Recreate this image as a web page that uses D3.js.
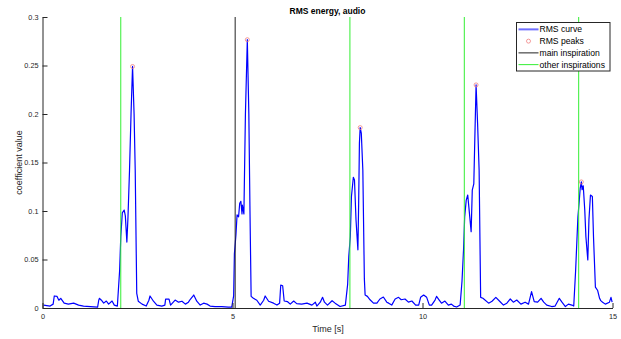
<!DOCTYPE html>
<html>
<head>
<meta charset="utf-8">
<script src="https://cdn.jsdelivr.net/npm/d3@7"></script>
<style>
  body { margin: 0; background: #fff; }
  svg { display: block; font-family: "Liberation Sans", Arial, sans-serif; }
</style>
</head>
<body>
<div id="chart"></div>
<script>
// RMS curve samples (time in s, coefficient value)
const timeSec = [0.03,0.20,0.28,0.31,0.38,0.43,0.48,0.57,0.68,0.82,0.95,1.08,1.26,1.45,1.48,1.50,1.55,1.61,1.68,1.74,1.83,1.89,1.97,
  2.03,2.06,2.10,2.15,2.18,2.22,2.25,2.29,2.33,2.37,2.41,2.44,2.48,2.52,2.62,2.73,2.80,2.83,2.92,3.01,3.14,3.22,3.24,3.33,3.37,
  3.49,3.58,3.67,3.76,3.84,3.89,3.98,4.06,4.15,4.24,4.33,4.41,4.54,4.72,4.89,4.98,
  5.03,5.05,5.09,5.12,5.16,5.19,5.22,5.25,5.26,5.30,5.34,5.39,5.43,5.46,5.49,5.55,5.64,5.73,5.82,5.86,5.95,6.08,6.17,6.24,6.27,
  6.32,6.36,6.45,6.52,6.61,6.69,6.82,6.96,7.09,7.18,7.22,7.31,7.37,7.42,7.50,7.62,7.70,7.83,7.97,
  8.03,8.06,8.10,8.13,8.18,8.21,8.25,8.30,8.32,8.34,8.36,8.39,8.43,8.47,8.49,8.55,8.62,8.71,8.80,8.88,8.97,9.06,9.11,9.19,9.28,
  9.37,9.44,9.54,9.63,9.72,9.82,9.90,9.95,10.03,10.11,10.18,10.24,10.33,10.37,10.44,10.50,10.59,10.68,10.76,10.82,10.90,10.99,
  11.04,11.08,11.11,11.15,11.19,11.22,11.28,11.31,11.35,11.38,11.41,11.45,11.49,11.53,11.59,11.74,11.83,11.93,12.03,12.13,12.22,
  12.31,12.39,12.48,12.59,12.70,12.79,12.87,12.94,13.03,13.12,13.19,13.27,13.40,13.49,13.60,13.67,13.76,13.84,13.93,13.98,
  14.03,14.09,14.12,14.15,14.18,14.20,14.23,14.27,14.30,14.35,14.38,14.42,14.47,14.50,14.55,14.61,14.66,14.69,14.74,14.81,14.92,14.96,14.99];
const rmsValue = [0.003,0.002,0.004,0.0124,0.012,0.008,0.010,0.005,0.004,0.005,0.003,0.002,0.0015,0.001,0.008,0.010,0.008,0.005,0.0072,0.004,0.0072,0.003,0.002,
  0.039,0.0735,0.098,0.101,0.095,0.068,0.094,0.142,0.200,0.249,0.200,0.142,0.015,0.007,0.004,0.002,0.008,0.0124,0.007,0.003,0.002,0.003,0.0092,0.0092,0.003,
  0.0082,0.006,0.007,0.004,0.006,0.009,0.0134,0.007,0.003,0.005,0.004,0.002,0.0015,0.0015,0.001,0.001,
  0.0124,0.056,0.075,0.096,0.094,0.108,0.110,0.097,0.106,0.097,0.200,0.2766,0.200,0.100,0.012,0.010,0.008,0.003,0.008,0.0124,0.007,0.005,0.003,0.005,0.0237,
  0.023,0.0072,0.0065,0.004,0.0072,0.0045,0.004,0.005,0.003,0.006,0.002,0.006,0.011,0.006,0.003,0.0075,0.005,0.0015,0.003,
  0.0244,0.053,0.0735,0.115,0.1347,0.132,0.091,0.060,0.108,0.170,0.186,0.180,0.142,0.030,0.0134,0.012,0.0085,0.005,0.005,0.0093,0.0113,0.006,0.005,0.003,0.0093,
  0.011,0.0085,0.0093,0.006,0.0072,0.003,0.003,0.011,0.0134,0.011,0.003,0.003,0.0082,0.012,0.0082,0.005,0.0072,0.003,0.004,0.002,0.001,0.003,
  0.0278,0.060,0.094,0.111,0.1165,0.104,0.0787,0.1216,0.128,0.180,0.230,0.190,0.142,0.011,0.010,0.005,0.007,0.011,0.007,0.003,0.005,
  0.0093,0.006,0.0082,0.004,0.006,0.004,0.0168,0.0065,0.006,0.010,0.006,0.003,0.0015,0.002,0.010,0.006,0.0015,0.004,0.003,0.002,
  0.039,0.094,0.108,0.1234,0.130,0.122,0.126,0.101,0.0735,0.0495,0.091,0.1165,0.115,0.0735,0.0216,0.018,0.010,0.0076,0.006,0.004,0.006,0.011,0.006];

const peakTime = [2.37, 5.39, 8.36, 11.41, 14.18];
const peakValue = [0.249, 0.2766, 0.186, 0.230, 0.130];

const mainInspiration = [5.07];
const otherInspirations = [2.06, 8.09, 11.10, 14.11];

const xTicks = [0, 5, 10, 15];
const yTicks = [0, 0.05, 0.1, 0.15, 0.2, 0.25, 0.3];

const legendLabels = ["RMS curve", "RMS peaks", "main inspiration", "other inspirations"];

const W = 621, H = 339;
const axisColor = "#262626";

const svg = d3.select("#chart").append("svg")
  .attr("width", W)
  .attr("height", H);

const x = d3.scaleLinear().domain([0, 15]).range([42.5, 612.5]);
const y = d3.scaleLinear().domain([0, 0.3]).range([308, 17]);

// vertical inspiration lines + curve
const plot = svg.append("g");

const curve = timeSec.map((t, i) => [t, rmsValue[i]]);
plot.append("path")
  .datum(curve)
  .attr("fill", "none")
  .attr("stroke", "#0000ff")
  .attr("stroke-width", 1.2)
  .attr("stroke-linejoin", "round")
  .attr("d", d3.line().x(d => x(d[0])).y(d => y(d[1])));

plot.selectAll(".other")
  .data(otherInspirations)
  .enter().append("line")
  .attr("class", "other")
  .attr("x1", d => x(d)).attr("x2", d => x(d))
  .attr("y1", y(0)).attr("y2", y(0.3))
  .attr("stroke", "#33ee33")
  .attr("stroke-width", 1);

plot.selectAll(".main")
  .data(mainInspiration)
  .enter().append("line")
  .attr("class", "main")
  .attr("x1", d => x(d)).attr("x2", d => x(d))
  .attr("y1", y(0)).attr("y2", y(0.3))
  .attr("stroke", "#222")
  .attr("stroke-width", 1);

plot.selectAll(".peak")
  .data(peakTime.map((t, i) => [t, peakValue[i]]))
  .enter().append("circle")
  .attr("class", "peak")
  .attr("cx", d => x(d[0]))
  .attr("cy", d => y(d[1]))
  .attr("r", 2)
  .attr("fill", "none")
  .attr("stroke", "#f08080")
  .attr("stroke-width", 0.8);

// axes
const xAxis = svg.append("g")
  .attr("transform", `translate(0,${y(0)})`)
  .call(d3.axisBottom(x).tickValues(xTicks).tickSizeInner(-5).tickSizeOuter(0).tickPadding(6).tickFormat(d3.format("d")));

const yAxis = svg.append("g")
  .attr("transform", `translate(${x(0)},0)`)
  .call(d3.axisLeft(y).tickValues(yTicks).tickSizeInner(-5).tickSizeOuter(0).tickPadding(4).tickFormat(d => d === 0 ? "0" : String(d)));

[xAxis, yAxis].forEach(a => {
  a.select(".domain").attr("stroke", axisColor);
  a.selectAll(".tick line").attr("stroke", axisColor);
  a.selectAll(".tick text").attr("fill", axisColor).style("font-size", "7.3px").style("font-family", "Liberation Sans, Arial, sans-serif");
});

// titles
svg.append("text")
  .attr("x", 327.5).attr("y", 14)
  .attr("text-anchor", "middle")
  .style("font-size", "8.5px")
  .style("font-weight", "bold")
  .attr("fill", "#000")
  .text("RMS energy, audio");

svg.append("text")
  .attr("x", 328).attr("y", 332)
  .attr("text-anchor", "middle")
  .style("font-size", "9px")
  .attr("fill", axisColor)
  .text("Time [s]");

svg.append("text")
  .attr("transform", `translate(22,${(y(0) + y(0.3)) / 2}) rotate(-90)`)
  .attr("text-anchor", "middle")
  .style("font-size", "9px")
  .attr("fill", axisColor)
  .text("coefficient value");

// legend
const legend = svg.append("g").attr("transform", "translate(516.5,22.5)");
legend.append("rect")
  .attr("width", 93.5).attr("height", 48.5)
  .attr("fill", "#fff")
  .attr("stroke", axisColor)
  .attr("stroke-width", 1);

const rowY = d3.scaleBand().domain(legendLabels).range([1, 48]);
const rows = legend.selectAll(".row")
  .data(legendLabels)
  .enter().append("g")
  .attr("class", "row")
  .attr("transform", d => `translate(0,${rowY(d) + rowY.bandwidth() / 2})`);

rows.filter((d, i) => i !== 1).append("line")
  .attr("x1", 2).attr("x2", 22)
  .attr("stroke", (d, i) => ["#6f6fff", "#222", "#33ee33"][i])
  .attr("stroke-width", (d, i) => i === 0 ? 2 : 1);

rows.filter((d, i) => i === 1).append("circle")
  .attr("cx", 12).attr("r", 2)
  .attr("fill", "none")
  .attr("stroke", "#f08080")
  .attr("stroke-width", 0.8);

rows.append("text")
  .attr("x", 23).attr("y", 3)
  .style("font-size", "8.6px")
  .attr("fill", "#000")
  .text(d => d);
</script>
</body>
</html>
